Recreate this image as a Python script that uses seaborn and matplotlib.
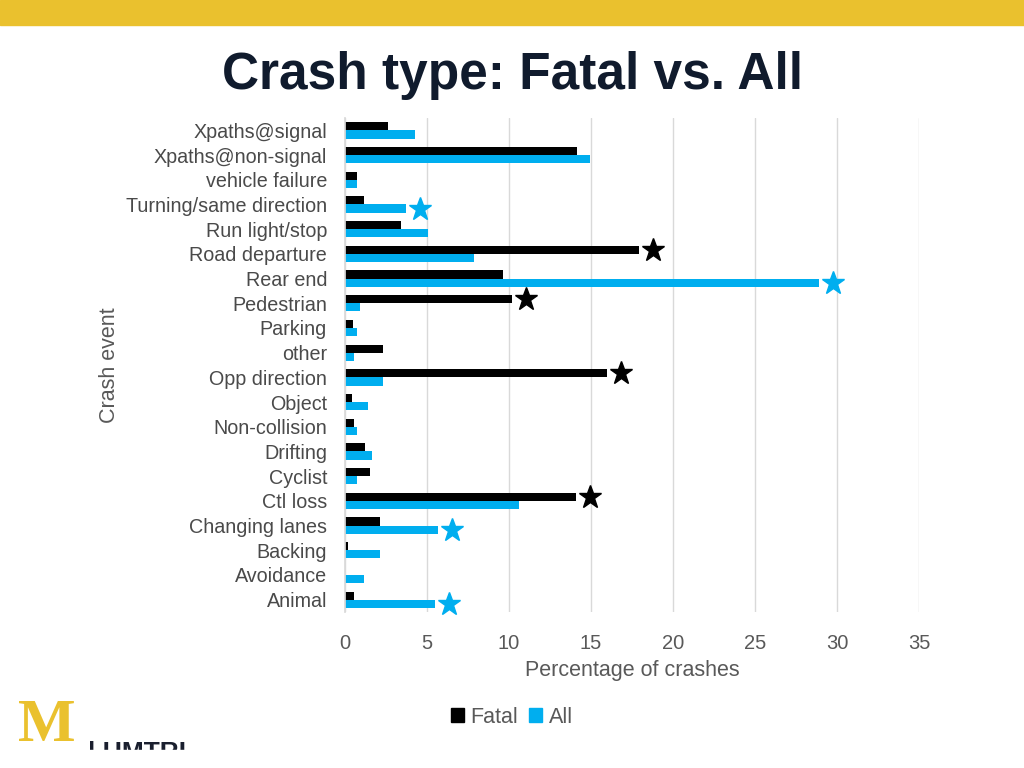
import pandas as pd
import matplotlib.pyplot as plt
import matplotlib.patches as mpatches
import seaborn as sns

# Data (percent of crashes)
categories = ["Xpaths@signal", "Xpaths@non-signal", "vehicle failure",
              "Turning/same direction", "Run light/stop", "Road departure",
              "Rear end", "Pedestrian", "Parking", "other", "Opp direction",
              "Object", "Non-collision", "Drifting", "Cyclist", "Ctl loss",
              "Changing lanes", "Backing", "Avoidance", "Animal"]
fatal = [2.6, 14.15, 0.75, 1.15, 3.4, 17.9, 9.6, 10.2, 0.5, 2.3, 16.0,
         0.45, 0.55, 1.2, 1.5, 14.1, 2.1, 0.2, 0.0, 0.55]
all_crashes = [4.25, 14.95, 0.7, 3.7, 5.05, 7.85, 28.9, 0.9, 0.75, 0.55, 2.3,
               1.4, 0.7, 1.65, 0.7, 10.6, 5.65, 2.15, 1.15, 5.5]

# Highlighted (starred) bars
star_categories = ["Turning/same direction", "Road departure", "Rear end",
                   "Pedestrian", "Opp direction", "Ctl loss",
                   "Changing lanes", "Animal"]
star_series = ["All", "Fatal", "All", "Fatal", "Fatal", "Fatal", "All", "All"]

BLUE = "#00AEEF"
YELLOW = "#EAC12E"
GRAY_TXT = "#595959"

df = pd.DataFrame({
    "Crash event": categories * 2,
    "Percentage": fatal + all_crashes,
    "Series": ["Fatal"] * len(categories) + ["All"] * len(categories),
})

sns.set_theme(style="white")
plt.rcParams["font.family"] = ["Liberation Sans", "DejaVu Sans"]

fig = plt.figure(figsize=(10.24, 7.68), dpi=100)
ax = fig.add_axes([0.337, 0.2031, 0.5605, 0.6432])

sns.barplot(data=df, y="Crash event", x="Percentage", hue="Series",
            hue_order=["Fatal", "All"], palette={"Fatal": "black", "All": BLUE},
            orient="h", width=0.66, saturation=1, linewidth=0, ax=ax, legend=False)

# stars just past the end of highlighted bars
offsets = {"Fatal": -0.165, "All": 0.165}
for cat, ser in zip(star_categories, star_series):
    i = categories.index(cat)
    val = fatal[i] if ser == "Fatal" else all_crashes[i]
    ax.plot(val + 0.85, i + offsets[ser], marker="*", markersize=17,
            color="black" if ser == "Fatal" else BLUE, linestyle="none",
            clip_on=False)

ax.set_xlim(0, 35)
ax.set_ylim(len(categories) - 0.5, -0.5)
ax.set_xticks(range(0, 36, 5))
ax.xaxis.grid(True, color="#d9d9d9", linewidth=1)
ax.set_axisbelow(True)
for s in ["top", "right", "bottom"]:
    ax.spines[s].set_visible(False)
ax.spines["left"].set_color("#d9d9d9")
ax.tick_params(axis="y", length=0, pad=13, labelsize=14.2, labelcolor="#4a4a4a")
ax.tick_params(axis="x", length=0, pad=16, labelsize=14.5, labelcolor=GRAY_TXT)

ax.set_xlabel("Percentage of crashes", fontsize=15.5, color=GRAY_TXT)
ax.set_ylabel("Crash event", fontsize=15.5, color=GRAY_TXT)
ax.xaxis.set_label_coords(0.5, -0.097)
ax.yaxis.set_label_coords(-0.392, 0.5)

# legend
handles = [mpatches.Patch(color="black", label="Fatal"),
           mpatches.Patch(color=BLUE, label="All")]
fig.legend(handles=handles, loc="center", bbox_to_anchor=(0.5, 0.066), ncol=2,
           frameon=False, fontsize=15.5, handlelength=0.6, handleheight=0.6,
           handletextpad=0.3, columnspacing=0.5, labelcolor=GRAY_TXT)

# title and slide decorations
fig.text(0.5, 0.902, "Crash type: Fatal vs. All", ha="center", va="center",
         fontsize=37, fontweight="bold", color="#101b2d")
fig.patches.append(mpatches.Rectangle((0, 0.967), 1, 0.033, transform=fig.transFigure,
                                      color=YELLOW, zorder=0))
fig.text(0.046, 0.055, "M", ha="center", va="center", fontsize=44,
         fontweight="bold", family="Liberation Serif", color=YELLOW)
fig.text(0.086, 0.004, "| UMTRI", ha="left", va="bottom", fontsize=19,
         fontweight="bold", color="#1a1f2e")
fig.patches.append(mpatches.Rectangle((0.08, 0.0), 0.2, 0.0234, transform=fig.transFigure,
                                      color="white", zorder=5))

fig.savefig("out.png", dpi=100, facecolor="white")
